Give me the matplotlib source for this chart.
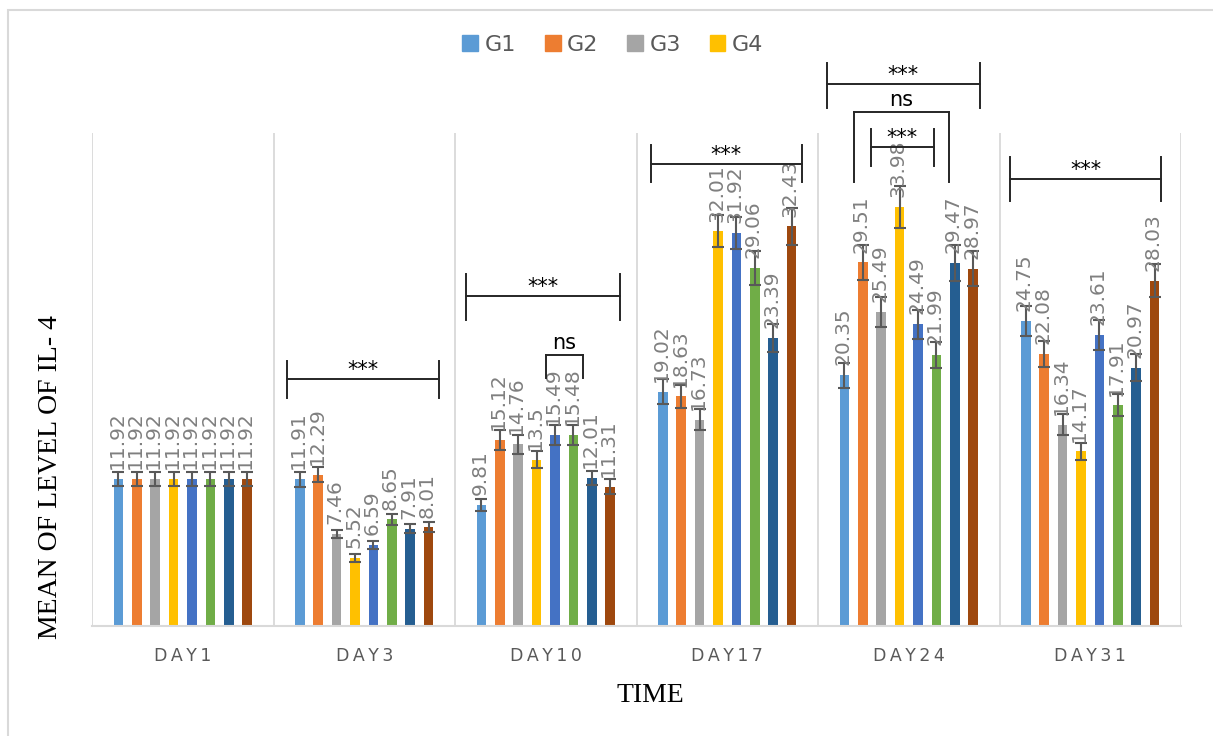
import matplotlib.pyplot as plt
import matplotlib.patches as mpatches
import numpy as np

days = ['DAY1', 'DAY3', 'DAY10', 'DAY17', 'DAY24', 'DAY31']
series = ['G1', 'G2', 'G3', 'G4', 'G5', 'G6', 'G7', 'G8']
colors = ['#5B9BD5', '#ED7D31', '#A5A5A5', '#FFC000',
          '#4472C4', '#70AD47', '#255E91', '#9E480E']

# mean values per series, one entry per day
g1 = [11.92, 11.91, 9.81, 19.02, 20.35, 24.75]
g2 = [11.92, 12.29, 15.12, 18.63, 29.51, 22.08]
g3 = [11.92, 7.46, 14.76, 16.73, 25.49, 16.34]
g4 = [11.92, 5.52, 13.5, 32.01, 33.98, 14.17]
g5 = [11.92, 6.59, 15.49, 31.92, 24.49, 23.61]
g6 = [11.92, 8.65, 15.48, 29.06, 21.99, 17.91]
g7 = [11.92, 7.91, 12.01, 23.39, 29.47, 20.97]
g8 = [11.92, 8.01, 11.31, 32.43, 28.97, 28.03]

# error bar half heights
e1 = [0.6, 0.6, 0.5, 1.0, 1.0, 1.22]
e2 = [0.6, 0.6, 0.8, 0.95, 1.42, 1.08]
e3 = [0.6, 0.35, 0.77, 0.85, 1.24, 0.84]
e4 = [0.6, 0.3, 0.7, 1.3, 1.68, 0.7]
e5 = [0.6, 0.33, 0.8, 1.3, 1.18, 1.18]
e6 = [0.6, 0.45, 0.8, 1.37, 1.05, 0.9]
e7 = [0.6, 0.4, 0.6, 1.15, 1.45, 1.08]
e8 = [0.6, 0.4, 0.6, 1.5, 1.42, 1.35]

values = [g1, g2, g3, g4, g5, g6, g7, g8]
errors = [e1, e2, e3, e4, e5, e6, e7, e8]

# significance brackets: day index, left/right offset from group centre,
# bar height, tick up, tick down, label
brackets = [
    (1, -0.425, 0.41, 20.0, 1.5, 1.5, '***'),
    (2, -0.44, 0.41, 26.8, 1.8, 2.0, '***'),
    (2, 0.0, 0.205, 22.0, 0.0, 1.9, 'ns'),
    (3, -0.42, 0.41, 37.5, 1.5, 1.5, '***'),
    (4, -0.45, 0.39, 44.0, 1.7, 2.0, '***'),
    (4, -0.30, 0.22, 41.7, 0.0, 5.7, 'ns'),
    (4, -0.21, 0.14, 38.85, 1.5, 1.5, '***'),
    (5, -0.44, 0.39, 36.25, 1.8, 1.8, '***'),
]

fig = plt.figure(figsize=(12.13, 7.36), dpi=100)
ax = fig.add_axes([0.07585, 0.14946, 0.89777, 0.66984])

# light frame round the chart
fig.patches.append(mpatches.Rectangle((7.5 / 1213, -0.1), 1.2, 1 - 10 / 736 + 0.1,
                                      transform=fig.transFigure, fill=False,
                                      edgecolor='#d9d9d9', lw=1.5))

x = np.arange(len(days))
slot = 0.1014
width = 0.053

for i, (vals, errs) in enumerate(zip(values, errors)):
    pos = x + (i - 3.5) * slot
    ax.bar(pos, vals, width, color=colors[i], label=series[i], zorder=2)
    ax.errorbar(pos, vals, yerr=errs, fmt='none', ecolor='#595959',
                elinewidth=1.5, capsize=4, capthick=1.5, zorder=3)
    for xp, v in zip(pos, vals):
        ax.annotate(f'{v:g}', (xp, v), xytext=(-1, 7), textcoords='offset points',
                    rotation=90, ha='center', va='bottom', fontsize=14.5,
                    color='#7f7f7f', zorder=4)

for (d, l, r, h, up, down, txt) in brackets:
    xl, xr = d + l, d + r
    kw = dict(color='#262626', lw=1.4, clip_on=False, zorder=5)
    ax.plot([xl, xr], [h, h], **kw)
    ax.plot([xl, xl], [h + up, h - down], **kw)
    ax.plot([xr, xr], [h + up, h - down], **kw)
    if txt == 'ns':
        ax.text((xl + xr) / 2, h + 0.95, txt, ha='center', va='center',
                fontsize=15, color='black', clip_on=False)
    else:
        ax.text((xl + xr) / 2, h + 0.25, txt, ha='center', va='baseline',
                fontsize=15, color='black', clip_on=False)

for b in np.arange(-0.5, len(days), 1.0):
    ax.axvline(b, color='#d9d9d9', lw=1.3, zorder=1)

ax.set_xlim(-0.5, len(days) - 0.5)
ax.set_ylim(0, 40)
ax.set_yticks([])
ax.set_xticks(x)
ax.set_xticklabels(['\u2009'.join(d) for d in days], fontsize=12.5, color='#595959')
ax.tick_params(axis='x', length=0, pad=15)
for s in ['top', 'left', 'right']:
    ax.spines[s].set_visible(False)
ax.spines['bottom'].set_color('#d9d9d9')
ax.spines['bottom'].set_linewidth(1.5)

fig.text(650 / 1213, 1 - 695 / 736, 'TIME', ha='center', va='center',
         fontsize=20, family='Liberation Serif')
fig.text(51 / 1213, 1 - 477 / 736, 'MEAN OF LEVEL OF IL- 4', ha='center', va='center',
         rotation=90, fontsize=20, family='Liberation Serif')

handles = [mpatches.Patch(color=colors[i]) for i in range(4)]
fig.legend(handles, series[:4], loc='center', bbox_to_anchor=(613 / 1213, 1 - 45 / 736),
           ncol=4, frameon=False, fontsize=16, labelcolor='#595959',
           handlelength=0.7, handleheight=0.7, handletextpad=0.3, columnspacing=1.3)

plt.savefig('out.png', dpi=100)
